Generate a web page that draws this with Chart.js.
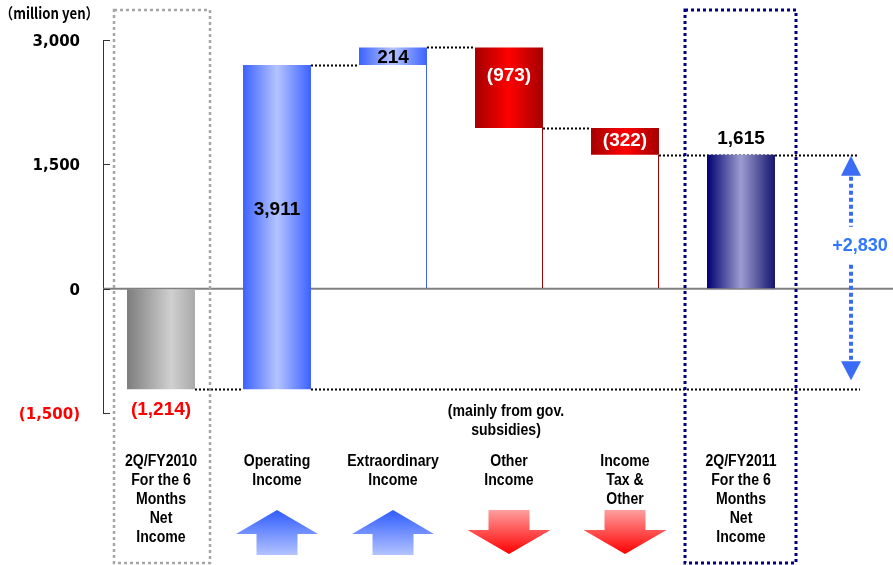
<!DOCTYPE html>
<html>
<head>
<meta charset="utf-8">
<script src="https://cdn.jsdelivr.net/npm/chart.js@4.4.1/dist/chart.umd.min.js"></script>
<style>
  html, body { margin: 0; padding: 0; background: #fff; overflow: hidden; }
  canvas { display: block; }
</style>
</head>
<body>
<canvas id="bridge" width="893" height="565"></canvas>
<script>
// Net income bridge: last year's half-year result, the four movements, this year's result
const categories = [
  ['2Q/FY2010', 'For the 6', 'Months', 'Net', 'Income'],
  ['Operating', 'Income'],
  ['Extraordinary', 'Income'],
  ['Other', 'Income'],
  ['Income', 'Tax &', 'Other'],
  ['2Q/FY2011', 'For the 6', 'Months', 'Net', 'Income']
];
const netIncomePrev = -1214;           // million yen
const changes = [3911, 214, -973, -322];
const netIncomeCurr = 1615;
const netIncomeDiff = 2830;
const diffLabel = '+2,830';
const yTickValues = [-1500, 0, 1500, 3000];
const yTickLabels = ['(1,500)', '0', '1,500', '3,000'];
const unitLabel = '（million yen）';
const noteLines = ['(mainly from gov.', 'subsidies)'];
const noteIndex = 3;

// ---- derived waterfall geometry (values only) ----
const floating = [[0, netIncomePrev]];
const bases = [null];
const kinds = ['prev'];
let level = netIncomePrev;
changes.forEach(c => {
  const next = level + c;
  floating.push([level, next]);
  const low = Math.min(level, next);
  bases.push(low > 0 ? [0, low] : null);
  kinds.push(c >= 0 ? 'up' : 'down');
  level = next;
});
floating.push([0, netIncomeCurr]);
bases.push(null);
kinds.push('curr');
const valueLabels = [netIncomePrev, ...changes, netIncomeCurr];

// ---- styling ----
const FONT_VAL = 'bold 19px "Liberation Sans", Arial, sans-serif';
const FONT_TXT = 'bold 16px "Liberation Sans", Arial, sans-serif';
const TXT_SQUEEZE = 0.88;
const barPct = 0.586;
const gradientStops = {
  prev: [[0, '#7d7d7d'], [0.65, '#d0d0d0'], [1, '#a9a9a9']],
  up:   [[0, '#3c62ff'], [0.5, '#b4c4ff'], [1, '#3c62ff']],
  down: [[0, '#a40000'], [0.5, '#ff0000'], [1, '#a40000']],
  curr: [[0, '#000070'], [0.5, '#9c9cd0'], [1, '#14146e']]
};
const baseEdgeColor = { up: '#3b63ee', down: '#990000' };
const labelStyle = [
  { color: '#ff0000', anchor: 'bottom', dy: 20 },
  { color: '#000000', anchor: 'mid', dy: -17.5 },
  { color: '#000000', anchor: 'mid', dy: 2 },
  { color: '#ffffff', anchor: 'top', dy: 28 },
  { color: '#ffffff', anchor: 'mid', dy: -1 },
  { color: '#000000', anchor: 'top', dy: -16 }
];
const boxes = [
  { index: 0, color: '#a6a6a6', left: 47, right: 49, width: 2.5 },
  { index: 5, color: '#000080', left: 56, right: 55, width: 3 }
];

function fmt(v) {
  const s = Math.abs(v).toLocaleString('en-US');
  return v < 0 ? '(' + s + ')' : s;
}

function barFill(ctx) {
  if (ctx.type !== 'data') return '#999';
  const stops = gradientStops[kinds[ctx.dataIndex]];
  const chart = ctx.chart;
  if (!chart.chartArea) return stops[1][1];
  const xs = chart.scales.x;
  const cx = xs.getPixelForValue(ctx.dataIndex);
  const half = xs.width / categories.length * barPct / 2;
  const g = chart.ctx.createLinearGradient(cx - half, 0, cx + half, 0);
  stops.forEach(([o, c]) => g.addColorStop(o, c));
  return g;
}

function dottedLine(c, x1, y1, x2, y2, color, width, dash) {
  c.save();
  c.strokeStyle = color;
  c.lineWidth = width;
  c.setLineDash(dash);
  c.beginPath();
  c.moveTo(x1, y1);
  c.lineTo(x2, y2);
  c.stroke();
  c.restore();
}

// narrow gothic-style caption text
function squeezedText(c, text, x, y) {
  c.save();
  c.translate(x, y);
  c.scale(TXT_SQUEEZE, 1);
  c.fillText(text, 0, 0);
  c.restore();
}

const decor = {
  id: 'decor',
  beforeDatasetsDraw(chart) {
    const c = chart.ctx, area = chart.chartArea, ys = chart.scales.y;
    const bars = chart.getDatasetMeta(0).data;
    const arrowX = bars[5].x + 110;
    // zero line
    const y0 = ys.getPixelForValue(0);
    dottedLine(c, area.left, y0, chart.width, y0, '#808080', 2, []);
    // connectors between consecutive bars
    for (let i = 0; i < bars.length - 1; i++) {
      const y = Math.round(ys.getPixelForValue(floating[i][1])) + 0.5;
      const x1 = bars[i].x + bars[i].width / 2;
      let x2 = bars[i + 1].x - bars[i + 1].width / 2;
      if (i === 4) x2 = arrowX + 6;
      dottedLine(c, x1, y, x2, y, '#000', 2, [2, 2]);
    }
    // previous-result level carried across to the difference arrow
    const yp = Math.round(ys.getPixelForValue(netIncomePrev)) + 0.5;
    dottedLine(c, bars[1].x + bars[1].width / 2, yp, arrowX + 9, yp, '#000', 2, [2, 2]);
  },
  afterDatasetsDraw(chart) {
    const c = chart.ctx, area = chart.chartArea, ys = chart.scales.y;
    const bars = chart.getDatasetMeta(0).data;

    // inward tick marks on the value axis
    c.save();
    c.strokeStyle = '#333';
    c.lineWidth = 1;
    yTickValues.forEach(v => {
      const y = Math.round(ys.getPixelForValue(v)) + 0.5;
      c.beginPath();
      c.moveTo(area.left, y);
      c.lineTo(area.left + 7, y);
      c.stroke();
    });
    c.restore();

    // value labels
    c.save();
    c.font = FONT_VAL;
    c.textAlign = 'center';
    c.textBaseline = 'middle';
    bars.forEach((b, i) => {
      const top = Math.min(b.y, b.base), bottom = Math.max(b.y, b.base);
      const st = labelStyle[i];
      const y = st.anchor === 'top' ? top : st.anchor === 'bottom' ? bottom : (top + bottom) / 2;
      c.fillStyle = st.color;
      c.fillText(fmt(valueLabels[i]), b.x, y + st.dy);
    });
    c.restore();

    // dotted frames around the two half-year results
    boxes.forEach(bx => {
      const cx = bars[bx.index].x;
      c.save();
      c.strokeStyle = bx.color;
      c.lineWidth = bx.width;
      c.setLineDash([3, 3]);
      c.strokeRect(cx - bx.left, 10, bx.left + bx.right, 553);
      c.restore();
    });

    // category names and the note under "Other Income"
    c.save();
    c.font = FONT_TXT;
    c.fillStyle = '#000';
    c.textAlign = 'center';
    c.textBaseline = 'middle';
    categories.forEach((lines, i) => {
      lines.forEach((t, k) => squeezedText(c, t, bars[i].x, 462 + k * 19));
    });
    noteLines.forEach((t, k) => squeezedText(c, t, bars[noteIndex].x - 3, 412 + k * 19));
    c.restore();

    // direction arrows under each movement
    changes.forEach((v, k) => {
      const x = bars[k + 1].x;
      c.save();
      c.beginPath();
      let g;
      if (v >= 0) {
        g = c.createLinearGradient(0, 510, 0, 555);
        g.addColorStop(0, '#2f5cff');
        g.addColorStop(1, '#b3c3ff');
        c.moveTo(x, 510); c.lineTo(x + 41, 534); c.lineTo(x + 20.5, 534);
        c.lineTo(x + 20.5, 555); c.lineTo(x - 20.5, 555); c.lineTo(x - 20.5, 534);
        c.lineTo(x - 41, 534);
      } else {
        g = c.createLinearGradient(0, 510, 0, 554);
        g.addColorStop(0, '#ff9f9f');
        g.addColorStop(1, '#ff0000');
        c.moveTo(x - 20.5, 510); c.lineTo(x + 20.5, 510); c.lineTo(x + 20.5, 530);
        c.lineTo(x + 41.5, 530); c.lineTo(x, 554); c.lineTo(x - 41.5, 530);
        c.lineTo(x - 20.5, 530);
      }
      c.closePath();
      c.fillStyle = g;
      c.fill();
      c.restore();
    });

    // year-on-year difference arrow
    const ax = bars[5].x + 110;
    const yTop = ys.getPixelForValue(netIncomePrev + netIncomeDiff);
    const yBot = ys.getPixelForValue(netIncomePrev);
    const textY = yTop + 91;
    const blue = '#3a6cf6';
    c.save();
    c.fillStyle = blue;
    c.beginPath();
    c.moveTo(ax, yTop + 1); c.lineTo(ax + 10, yTop + 21); c.lineTo(ax - 10, yTop + 21);
    c.closePath(); c.fill();
    c.beginPath();
    c.moveTo(ax, yBot - 9); c.lineTo(ax + 10, yBot - 28); c.lineTo(ax - 10, yBot - 28);
    c.closePath(); c.fill();
    c.restore();
    dottedLine(c, ax, yTop + 22, ax, textY - 19, blue, 4, [4, 3]);
    dottedLine(c, ax, textY + 19, ax, yBot - 29, blue, 4, [4, 3]);
    c.save();
    c.font = 'bold 18px "Liberation Sans", Arial, sans-serif';
    c.fillStyle = '#2f78ff';
    c.textAlign = 'center';
    c.textBaseline = 'middle';
    c.fillText(diffLabel, ax + 9, textY);
    c.restore();

    // unit caption
    c.save();
    c.font = 'bold 15px "Noto Sans CJK JP", "Liberation Sans", sans-serif';
    c.fillStyle = '#000';
    c.textAlign = 'left';
    c.textBaseline = 'middle';
    squeezedText(c, unitLabel, 0, 13);
    c.restore();
  }
};

new Chart(document.getElementById('bridge'), {
  type: 'bar',
  data: {
    labels: categories.map(l => l.join(' ')),
    datasets: [
      {
        data: floating,
        backgroundColor: barFill,
        borderWidth: 0,
        barPercentage: barPct,
        categoryPercentage: 1
      },
      {
        data: bases,
        backgroundColor: 'rgba(0,0,0,0)',
        borderColor: ctx => baseEdgeColor[kinds[ctx.dataIndex]] || 'rgba(0,0,0,0)',
        borderWidth: { top: 0, right: 1, bottom: 0, left: 0 },
        borderSkipped: false,
        barPercentage: barPct,
        categoryPercentage: 1
      }
    ]
  },
  options: {
    responsive: false,
    devicePixelRatio: 1,
    animation: false,
    layout: { padding: { top: 40, bottom: 152, left: 0, right: 94 } },
    plugins: { legend: { display: false }, tooltip: { enabled: false } },
    scales: {
      x: { display: false, stacked: true },
      y: {
        stacked: false,
        min: -1500,
        max: 3000,
        afterBuildTicks(scale) { scale.ticks = yTickValues.map(v => ({ value: v })); },
        afterFit(scale) { scale.width = 103; },
        grid: { display: true, drawOnChartArea: false, drawTicks: false },
        border: { display: true, color: '#333', width: 1 },
        ticks: {
          padding: 23,
          labelOffset: 2,
          font: { family: '"DejaVu Sans", sans-serif', size: 15, weight: 'bold' },
          color: ctx => (ctx.tick && ctx.tick.value < 0 ? '#ff0000' : '#000000'),
          callback: v => yTickLabels[yTickValues.indexOf(v)]
        }
      }
    }
  },
  plugins: [decor]
});
</script>
</body>
</html>
